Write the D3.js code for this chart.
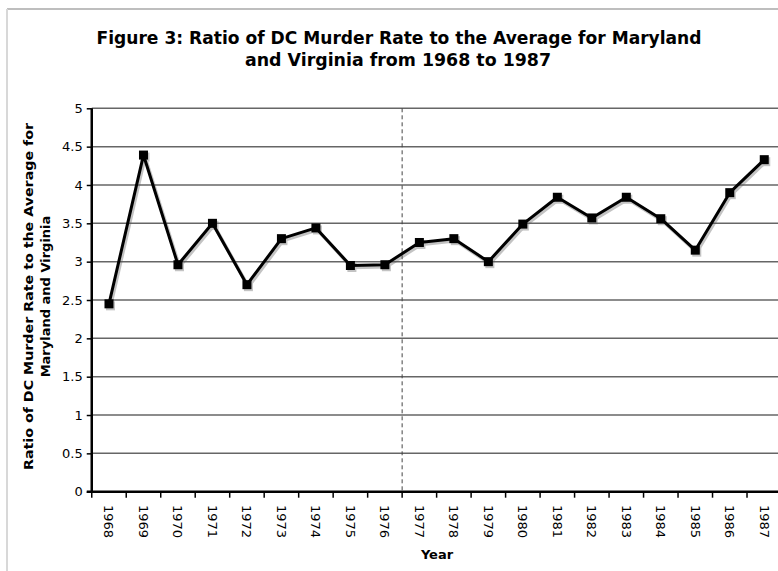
<!DOCTYPE html>
<html>
<head>
<meta charset="utf-8">
<script src="https://cdn.jsdelivr.net/npm/d3@7"></script>
<style>
  html, body { margin: 0; padding: 0; background: #fff; }
  svg { display: block; }
</style>
</head>
<body>
<svg id="chart" width="778" height="571"></svg>
<script>
const years = ["1968","1969","1970","1971","1972","1973","1974","1975","1976","1977",
               "1978","1979","1980","1981","1982","1983","1984","1985","1986","1987"];
const ratios = [2.45, 4.39, 2.96, 3.50, 2.70, 3.30, 3.44, 2.95, 2.96, 3.25,
                3.30, 3.00, 3.49, 3.84, 3.57, 3.84, 3.56, 3.15, 3.90, 4.33];
const yTickValues = [0, 0.5, 1, 1.5, 2, 2.5, 3, 3.5, 4, 4.5, 5];
const dividerYear = "1977";
const titleLines = ["Figure 3: Ratio of DC Murder Rate to the Average for Maryland",
                    "and Virginia from 1968 to 1987"];
const yTitleLines = ["Ratio of DC Murder Rate to the Average for", "Maryland and Virginia"];
const xTitle = "Year";

(function () {
const svg = d3.select("#chart");
const W = 778, H = 571;
const pLeft = 91.75, pRight = 781.5, pTop = 108.3, pBottom = 491.7;

const x = d3.scaleBand().domain(years).range([pLeft, pRight]).padding(0);
const y = d3.scaleLinear().domain([0, 5]).range([pBottom, pTop]);

// outer frame
svg.append("line").attr("x1", 7).attr("x2", W).attr("y1", 9).attr("y2", 9)
  .attr("stroke", "#a8a8a8").attr("stroke-width", 1.5);
svg.append("line").attr("x1", 7).attr("x2", 7).attr("y1", 9).attr("y2", H)
  .attr("stroke", "#d8d8d8").attr("stroke-width", 2);

// title
const title = svg.append("g").attr("font-family", "'DejaVu Sans Condensed', 'DejaVu Sans', sans-serif")
  .attr("font-weight", "bold").attr("font-size", 18).attr("text-anchor", "middle").attr("fill", "#000");
title.append("text").attr("x", 399).attr("y", 44).text(titleLines[0])
  .attr("textLength", 605).attr("lengthAdjust", "spacingAndGlyphs");
title.append("text").attr("x", 398).attr("y", 66).text(titleLines[1])
  .attr("textLength", 306).attr("lengthAdjust", "spacingAndGlyphs");

// gridlines
svg.append("g").selectAll("line").data(yTickValues.filter(d => d > 0)).join("line")
  .attr("x1", pLeft).attr("x2", W)
  .attr("y1", d => y(d)).attr("y2", d => y(d))
  .attr("stroke", "#666").attr("stroke-width", 1.5);

// divider dashed line
svg.append("line")
  .attr("x1", x(dividerYear)).attr("x2", x(dividerYear))
  .attr("y1", pTop).attr("y2", pBottom)
  .attr("stroke", "#444").attr("stroke-width", 1).attr("stroke-dasharray", "4,3");

// y axis
const yAxis = svg.append("g").attr("transform", `translate(${pLeft},0)`)
  .call(d3.axisLeft(y).tickValues(yTickValues).tickSize(5).tickPadding(4).tickFormat(d => String(d)));
yAxis.select(".domain").attr("stroke", "#000").attr("stroke-width", 2.5)
  .attr("d", `M0,${pTop}V${pBottom}`);
yAxis.selectAll(".tick line").attr("stroke", "#000").attr("stroke-width", 1.5);
yAxis.selectAll(".tick text").attr("font-family", "'DejaVu Sans', Verdana, sans-serif")
  .attr("font-size", 13).attr("fill", "#000");

// x axis baseline and ticks at band boundaries
const boundaries = years.map(d => x(d)).concat([x(years[years.length - 1]) + x.bandwidth()]);
svg.append("line").attr("x1", pLeft - 5).attr("x2", W).attr("y1", pBottom).attr("y2", pBottom)
  .attr("stroke", "#000").attr("stroke-width", 2.5);
svg.append("g").selectAll("line").data(boundaries).join("line")
  .attr("x1", d => d).attr("x2", d => d).attr("y1", pBottom).attr("y2", pBottom + 6)
  .attr("stroke", "#000").attr("stroke-width", 1.5);

// x tick labels
svg.append("g").selectAll("text").data(years).join("text")
  .attr("transform", d => `translate(${x(d) + x.bandwidth() / 2},505) rotate(90)`)
  .attr("dy", "0.35em")
  .attr("text-anchor", "start")
  .attr("font-family", "'DejaVu Sans', Verdana, sans-serif")
  .attr("font-size", 13).attr("fill", "#000")
  .text(d => d);

// axis titles
svg.append("text").attr("x", 437).attr("y", 559).attr("text-anchor", "middle")
  .attr("font-family", "'DejaVu Sans', Verdana, sans-serif").attr("font-weight", "bold")
  .attr("font-size", 13).text(xTitle);

const yt = svg.append("g").attr("font-family", "'DejaVu Sans', Verdana, sans-serif")
  .attr("font-weight", "bold").attr("font-size", 13).attr("text-anchor", "middle");
yt.append("text").attr("transform", "translate(33,296.5) rotate(-90)").text(yTitleLines[0])
  .attr("textLength", 347).attr("lengthAdjust", "spacingAndGlyphs");
yt.append("text").attr("transform", "translate(50,296.5) rotate(-90)").text(yTitleLines[1]);

// data
const pts = years.map((d, i) => ({ year: d, v: ratios[i] }));
const line = d3.line().x(d => x(d.year) + x.bandwidth() / 2).y(d => y(d.v));

// shadow
const shadow = svg.append("g").attr("transform", "translate(1.5,2)").attr("opacity", 0.35);
shadow.append("path").datum(pts).attr("d", line).attr("fill", "none")
  .attr("stroke", "#555").attr("stroke-width", 3.5).attr("stroke-linejoin", "round");
shadow.selectAll("rect").data(pts).join("rect")
  .attr("x", d => x(d.year) + x.bandwidth() / 2 - 4.5).attr("y", d => y(d.v) - 4.5)
  .attr("width", 9).attr("height", 9).attr("fill", "#555");

svg.append("path").datum(pts).attr("d", line).attr("fill", "none")
  .attr("stroke", "#000").attr("stroke-width", 3).attr("stroke-linejoin", "round");
svg.append("g").selectAll("rect").data(pts).join("rect")
  .attr("x", d => x(d.year) + x.bandwidth() / 2 - 4.5).attr("y", d => y(d.v) - 4.5)
  .attr("width", 9).attr("height", 9).attr("fill", "#000");
})();
</script>
</body>
</html>
